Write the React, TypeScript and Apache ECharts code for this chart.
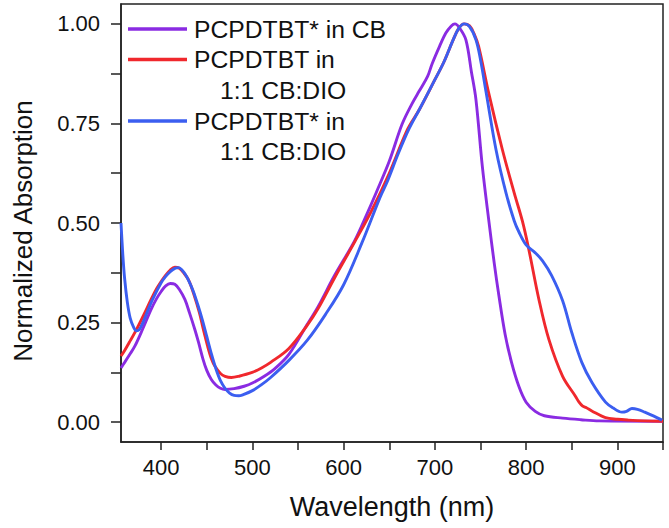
import React, { useEffect, useRef } from "react";
import * as echarts from "echarts";

const purpleNm = [356,360,365,371,380,389,395,400,405,410,415,420,426,431,437,441,446,450,455,460,465,470,480,491,500,513,525,540,560,572,590,612,625,636,650,664,675,683,692,697,705,712,718,722,727,734,740,745,752,759,765,770,777,784,792,800,810,820,840,860,880,950];
const purpleAbs = [0.136,0.15,0.168,0.19,0.235,0.283,0.31,0.328,0.342,0.348,0.346,0.333,0.308,0.275,0.232,0.2,0.157,0.13,0.107,0.093,0.085,0.082,0.084,0.09,0.098,0.115,0.135,0.17,0.245,0.29,0.368,0.455,0.52,0.578,0.655,0.748,0.8,0.832,0.868,0.9,0.943,0.977,0.995,1.0,0.99,0.96,0.88,0.81,0.642,0.508,0.4,0.32,0.22,0.15,0.09,0.05,0.027,0.016,0.01,0.006,0.003,0.002];

const redNm = [356,360,365,371,380,389,395,400,404,410,415,420,425,430,436,442,446,451,455,459,465,470,477,485,499,510,520,540,560,572,590,612,630,650,670,683,700,710,720,726,732,738,743,748,759,774,787,796,803,814,825,840,854,858,862,866,872,887,900,912,930,950];
const redAbs = [0.166,0.18,0.2,0.224,0.265,0.308,0.335,0.353,0.366,0.382,0.389,0.386,0.374,0.357,0.32,0.274,0.235,0.19,0.16,0.14,0.122,0.115,0.112,0.115,0.124,0.136,0.15,0.185,0.243,0.285,0.362,0.452,0.528,0.625,0.735,0.785,0.86,0.905,0.96,0.988,1.0,0.995,0.975,0.943,0.826,0.684,0.575,0.504,0.433,0.308,0.207,0.115,0.065,0.05,0.04,0.036,0.028,0.011,0.007,0.005,0.003,0.002];

const blueNm = [356,358,360,363,366,370,373,376,380,390,400,405,410,415,419,425,430,435,440,445,450,455,460,465,470,475,480,485,490,500,510,520,540,560,580,600,620,640,648,660,672,683,700,710,720,726,732,738,745,750,756,767,778,787,792,800,810,818,828,840,850,861,872,887,895,905,910,916,922,930,940,949];
const blueAbs = [0.5,0.42,0.36,0.3,0.262,0.237,0.229,0.232,0.25,0.305,0.35,0.366,0.378,0.386,0.388,0.376,0.356,0.33,0.296,0.258,0.215,0.172,0.134,0.104,0.085,0.073,0.067,0.066,0.069,0.079,0.094,0.112,0.155,0.205,0.27,0.345,0.45,0.565,0.605,0.675,0.738,0.785,0.86,0.905,0.96,0.988,1.0,0.993,0.96,0.91,0.83,0.684,0.575,0.505,0.478,0.445,0.425,0.405,0.368,0.305,0.225,0.15,0.1,0.05,0.036,0.025,0.027,0.034,0.032,0.025,0.015,0.005];

const xTicks = [400,450,500,550,600,650,700,750,800,850,900,950];
const xLabels = [400,500,600,700,800,900];
const yTicks = [0,0.125,0.25,0.375,0.5,0.625,0.75,0.875,1.0];
const yLabels = [0,0.25,0.5,0.75,1.0];

const seriesNames = ["PCPDTBT* in CB", "PCPDTBT in", "PCPDTBT* in"];
const seriesSub = ["", "1:1 CB:DIO", "1:1 CB:DIO"];
const colors = ["#8a2be2", "#f0282d", "#3b5ef0"];

const zip = (a: number[], b: number[]) => a.map((x, i) => [x, b[i]]);

export default function App() {
  const ref = useRef<HTMLDivElement>(null);
  useEffect(() => {
    if (!ref.current) return;
    const chart = echarts.init(ref.current, null, { renderer: "svg" });
    const font = "'Liberation Sans', Arial, sans-serif";
    const legendY = [29, 59.5, 121];
    const graphics: any[] = [];
    seriesNames.forEach((n, i) => {
      graphics.push({
        type: "line",
        shape: { x1: 128, y1: legendY[i], x2: 187, y2: legendY[i] },
        style: { stroke: colors[i], lineWidth: 3.5 },
      });
      graphics.push({
        type: "text",
        x: 194,
        y: legendY[i],
        style: { text: n, font: `24.7px ${font}`, fill: "#111", verticalAlign: "middle" },
      });
      if (seriesSub[i]) {
        graphics.push({
          type: "text",
          x: 220,
          y: legendY[i] + 30.5,
          style: { text: seriesSub[i], font: `24.7px ${font}`, fill: "#111", verticalAlign: "middle" },
        });
      }
    });
    const lineSeries = (idx: number, data: number[][]) => ({
      type: "line",
      name: seriesNames[idx],
      data,
      showSymbol: false,
      symbol: "none",
      smooth: 0.35,
      lineStyle: { color: colors[idx], width: 2.9 },
      z: 2 + idx,
    });
    chart.setOption({
      animation: false,
      backgroundColor: "#fff",
      textStyle: { fontFamily: font },
      grid: {
        left: 121,
        top: 4,
        right: 6,
        bottom: 86,
        show: true,
        borderColor: "#222",
        borderWidth: 1.5,
        containLabel: false,
      },
      xAxis: {
        type: "value",
        min: 356,
        max: 950,
        name: "Wavelength (nm)",
        nameLocation: "middle",
        nameGap: 51,
        nameTextStyle: { fontSize: 27, color: "#111", fontFamily: font },
        axisLine: { show: true, onZero: false, lineStyle: { color: "#222", width: 1.5 } },
        axisTick: { show: true, inside: false, length: 8, customValues: xTicks, lineStyle: { color: "#222", width: 1.5 } },
        axisLabel: { customValues: xLabels, fontSize: 22, color: "#111", margin: 14, fontFamily: font },
        splitLine: { show: false },
      },
      yAxis: {
        type: "value",
        min: -0.05,
        max: 1.05,
        name: "Normalized Absorption",
        nameLocation: "middle",
        nameGap: 85,
        nameTextStyle: { fontSize: 26, color: "#111", fontFamily: font, padding: [0, 16, 0, 0] },
        axisLine: { show: true, onZero: false, lineStyle: { color: "#222", width: 1.5 } },
        axisTick: { show: true, inside: false, length: 10, customValues: yTicks, lineStyle: { color: "#222", width: 1.5 } },
        axisLabel: {
          customValues: yLabels,
          fontSize: 22,
          color: "#111",
          margin: 21,
          fontFamily: font,
          formatter: (v: number) => v.toFixed(2),
        },
        splitLine: { show: false },
      },
      series: [
        lineSeries(1, zip(redNm, redAbs)),
        lineSeries(0, zip(purpleNm, purpleAbs)),
        lineSeries(2, zip(blueNm, blueAbs)),
      ],
      graphic: graphics,
    });
    return () => chart.dispose();
  }, []);
  return (
    <div
      ref={ref}
      style={{ position: "absolute", left: 0, top: 0, width: 669, height: 528 }}
    />
  );
}
